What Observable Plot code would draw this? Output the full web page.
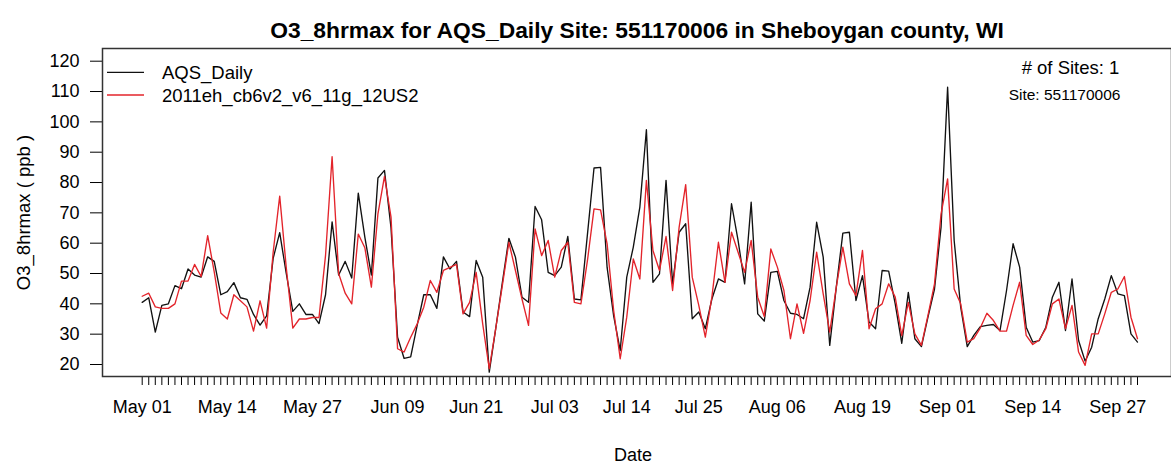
<!DOCTYPE html>
<html>
<head>
<meta charset="utf-8">
<script src="https://cdn.jsdelivr.net/npm/d3@7"></script>
<script src="https://cdn.jsdelivr.net/npm/@observablehq/plot@0.6"></script>
<style>
  body { margin: 0; background: #fff; }
  #chart svg { display: block; }
</style>
</head>
<body>
<div id="chart"></div>
<script>
// ---- data ----
const startDate = "2011-05-01";
const endDate = "2011-09-30";
const tickLabelDates = ["2011-05-01","2011-05-14","2011-05-27","2011-06-09","2011-06-21","2011-07-03",
  "2011-07-14","2011-07-25","2011-08-06","2011-08-19","2011-09-01","2011-09-14","2011-09-27"];
const yTicks = [20, 30, 40, 50, 60, 70, 80, 90, 100, 110, 120];
const seriesNames = ["AQS_Daily", "2011eh_cb6v2_v6_11g_12US2"];
const seriesColors = ["#111111", "#e3242b"];
const obsValues = [
  40.5, 42, 30.7, 39.5, 40, 46, 45, 51.5, 49.5, 48.8,
  55.5, 54, 43, 44, 47, 42, 41.5, 36.5, 33, 36,
  55, 63.5, 50, 37.5, 40, 36.5, 36.5, 33.5, 43, 67,
  49.5, 54, 48.5, 76.5, 62, 49.5, 81.5, 84, 65, 29,
  22, 22.5, 33, 43, 43, 38.5, 55.5, 51.5, 54, 37.3,
  35.8, 54.3, 48.8, 17.5, 32, 47, 61.6, 55.4, 42.2, 40.5,
  72.1, 67.7, 50.4, 49.3, 52.1, 62.2, 41.6, 41.3, 63, 84.8,
  85, 52, 36, 24.6, 48.8, 58.7, 71.9, 97.4, 47.1, 49.9,
  80.7, 46.6, 63.6, 66.4, 35.1, 37.3, 31.8, 41.6, 48.2, 47.1,
  73, 60.9, 46.6, 73.5, 36.7, 34.3, 50.4, 50.7, 41.1, 36.9,
  36.5, 35.1, 45.5, 66.9, 55.4, 26.3, 45.5, 63.3, 63.6, 41.1,
  49.3, 34, 31.8, 51, 50.8, 40, 27, 43.8, 28.5, 25.9,
  35.6, 44.9, 65.3, 111.4, 60.9, 38.9, 25.9, 29.6, 32.5, 32.9,
  33.2, 31.2, 44.4, 59.8, 52.1, 32.3, 27.4, 27.9, 32.3, 42.2,
  47.1, 31.2, 48.2, 27.9, 21.1, 25.7, 35.1, 41.6, 49.3, 43.3,
  42.7, 30.1, 27.4
];
const modelValues = [
  42.5, 43.5, 39, 38.5, 38.5, 40, 47.5, 47.5, 53, 49,
  62.5, 50.5, 37, 35, 43, 41, 39, 31, 41, 32,
  57, 75.5, 52, 32, 35, 35, 35.5, 35.5, 56, 88.5,
  50, 43.5, 40, 63, 58.5, 45.5, 69.7, 82, 68.6, 25.2,
  24.1, 29, 33.4, 38.9, 47.7, 43.8, 51, 52, 53, 36.7,
  40.5, 50.4, 33.4, 18.6, 32, 46, 60.3, 51, 41.6, 32.9,
  64.7, 55.9, 60.9, 48.8, 57.6, 60.3, 40.5, 40, 54.3, 71.3,
  71, 59.8, 37.8, 21.9, 35.6, 54.8, 48.2, 80.7, 57.6, 51,
  62.2, 44.4, 65.3, 79.3, 48.8, 39.5, 29, 42.2, 60.3, 47.1,
  63.6, 57, 50.4, 60.9, 42.2, 35.8, 58.1, 52.1, 44.4, 28.5,
  40, 30.3, 41.1, 57, 43.3, 30.7, 45.5, 58.7, 46.6, 42.7,
  57.6, 31.8, 38.4, 40, 46.6, 42.2, 29.5, 40.5, 30.1, 26.3,
  36.2, 46.6, 69.7, 81.2, 44.9, 40, 27.4, 28.5, 32.1, 36.9,
  34.5, 31, 31, 39.5, 47.1, 29.6, 26.6, 28.1, 31.8, 40,
  41.6, 31.8, 39.5, 24.1, 19.7, 30.1, 30.1, 36.7, 43.8, 44.9,
  49, 35.6, 28.5
];
const titleText = "O3_8hrmax for AQS_Daily Site: 551170006 in Sheboygan county, WI";
const yLabelText = "O3_8hrmax ( ppb )";
const xLabelText = "Date";
const sitesText = "# of Sites: 1";
const siteText = "Site: 551170006";

// ---- build ----
const days = d3.utcDay.range(new Date(startDate), d3.utcDay.offset(new Date(endDate), 1));
const rows = days.map((date, i) => ({date, obs: obsValues[i], model: modelValues[i]}));
const labelDates = tickLabelDates.map(s => new Date(s));
const font = "'Liberation Sans', Arial, Helvetica, sans-serif";

const chart = Plot.plot({
  width: 1171,
  height: 471,
  marginLeft: 102,
  marginRight: 0,
  marginTop: 48,
  marginBottom: 95,
  style: {fontFamily: font, background: "#fff", color: "#000", overflow: "visible"},
  x: {type: "utc", domain: [days[0], days[days.length - 1]], range: [141.7, 1137]},
  y: {domain: [20, 120], range: [364, 60.7]},
  marks: [
    Plot.axisY({ticks: yTicks, tickSize: 12, tickPadding: 11, fontSize: 18, label: null, tickFormat: d => String(d)}),
    Plot.axisX({ticks: days, tickSize: 9, tickFormat: () => "", label: null}),
    Plot.axisX({ticks: labelDates, tickSize: 0, tickPadding: 24, fontSize: 18, label: null,
                tickFormat: d3.utcFormat("%b %d")}),
    Plot.lineY(rows, {x: "date", y: "obs", stroke: seriesColors[0], strokeWidth: 1.35}),
    Plot.lineY(rows, {x: "date", y: "model", stroke: seriesColors[1], strokeWidth: 1.35}),
    Plot.frame({stroke: "#333", strokeWidth: 1.5}),
    Plot.text([titleText], {text: d => d, frameAnchor: "top", dy: -27, fontSize: 22.8, fontWeight: "bold"}),
    Plot.text([yLabelText], {text: d => d, frameAnchor: "left", dx: -78, rotate: -90, textAnchor: "middle", fontSize: 18.5}),
    Plot.text([xLabelText], {text: d => d, frameAnchor: "bottom", dy: 84, dx: -4, fontSize: 18}),
    Plot.text([sitesText], {text: d => d, frameAnchor: "top-right", dx: -101, dy: 12, textAnchor: "middle", fontSize: 18.5}),
    Plot.text([siteText], {text: d => d, frameAnchor: "top-right", dx: -107, dy: 40, textAnchor: "middle", fontSize: 15.5})
  ]
});

// legend (top-left inside the frame)
const svg = d3.select(chart);
const lg = svg.append("g").attr("font-family", font).attr("font-size", 18.5).attr("text-anchor", "start");
seriesNames.forEach((name, i) => {
  const yLine = 72.3 + i * 22.7;
  lg.append("line").attr("x1", 107).attr("x2", 144).attr("y1", yLine).attr("y2", yLine)
    .attr("stroke", seriesColors[i]).attr("stroke-width", 1.35);
  lg.append("text").attr("x", 162).attr("y", yLine + 6.8).attr("fill", "#000")
    .attr("text-anchor", "start").text(name);
});

document.getElementById("chart").appendChild(chart);
</script>
</body>
</html>
